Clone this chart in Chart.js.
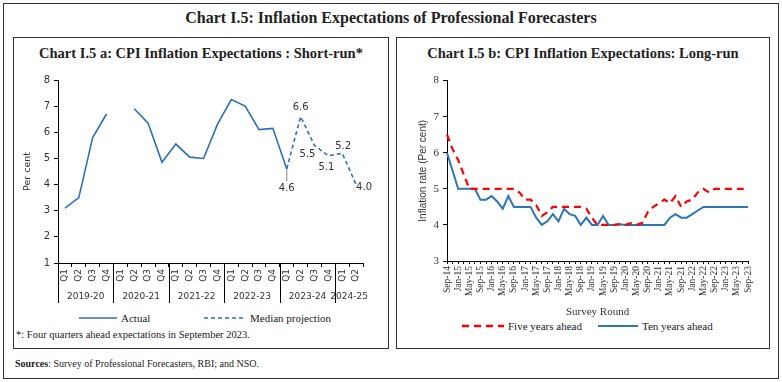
<!DOCTYPE html>
<html lang="en">
<head>
<meta charset="UTF-8">
<title>Chart I.5: Inflation Expectations of Professional Forecasters</title>
<script src="https://cdn.jsdelivr.net/npm/chart.js@4.4.0/dist/chart.umd.min.js"></script>
<style>
  body { margin: 0; background: #fff; font-family: "Liberation Serif", serif; color: #222; }
  .box { position: absolute; border: 1.5px solid #333; box-sizing: border-box; }
  .txt { position: absolute; white-space: nowrap; }
  .title { left: 0; width: 782px; text-align: center; font-weight: bold; }
  .legend { position: absolute; font-size: 11px; display: flex; align-items: center; white-space: nowrap; }
  .legend svg { margin-right: 4px; }
  canvas { position: absolute; }
</style>
</head>
<body>
  <div class="box" style="left:3px; top:3px; width:776px; height:376px;"></div>
  <div class="txt title" style="top:9px; font-size:16px;">Chart I.5: Inflation Expectations of Professional Forecasters</div>

  <!-- panel a -->
  <div class="box" style="left:13px; top:37px; width:376px; height:312px;"></div>
  <div class="txt" style="left:13px; width:376px; top:45px; text-align:center; font-weight:bold; font-size:14.5px;">Chart I.5 a: CPI Inflation Expectations : Short-run*</div>
  <canvas id="chartA" width="372" height="236" style="left:14px; top:70px;"></canvas>
  <div class="legend" style="left:79px; top:312px;">
    <svg width="38" height="4"><line x1="0" y1="2" x2="38" y2="2" stroke="#2E6FB7" stroke-width="1.6"/></svg>Actual
  </div>
  <div class="legend" style="left:204px; top:312px;">
    <svg width="42" height="4"><line x1="0" y1="2" x2="42" y2="2" stroke="#2E6FB7" stroke-width="1.6" stroke-dasharray="4 3"/></svg>Median projection
  </div>
  <div class="txt" style="left:16px; top:329px; font-size:10.5px;">*: Four quarters ahead expectations in September 2023.</div>

  <!-- panel b -->
  <div class="box" style="left:396px; top:37px; width:374px; height:312px;"></div>
  <div class="txt" style="left:396px; width:374px; top:45px; text-align:center; font-weight:bold; font-size:14.5px;">Chart I.5 b: CPI Inflation Expectations: Long-run</div>
  <canvas id="chartB" width="370" height="250" style="left:398px; top:70px;"></canvas>
  <div class="legend" style="left:462px; top:320px;">
    <svg width="42" height="4"><line x1="0" y1="2" x2="42" y2="2" stroke="#FF0000" stroke-width="2.4" stroke-dasharray="7 5"/></svg>Five years ahead
  </div>
  <div class="legend" style="left:598px; top:320px;">
    <svg width="40" height="4"><line x1="0" y1="2" x2="40" y2="2" stroke="#2E75B6" stroke-width="2"/></svg>Ten years ahead
  </div>

  <div class="txt" style="left:15px; top:358px; font-size:10px;"><b>Sources</b>: Survey of Professional Forecasters, RBI; and NSO.</div>

<script>
// ---- Chart I.5 a: short-run expectations ----
const quarters = ['Q1','Q2','Q3','Q4','Q1','Q2','Q3','Q4','Q1','Q2','Q3','Q4',
                  'Q1','Q2','Q3','Q4','Q1','Q2','Q3','Q4','Q1','Q2'];
const fiscalYears = ['2019-20','2020-21','2021-22','2022-23','2023-24','2024-25'];
const quartersInYear = [4, 4, 4, 4, 4, 2];
const actual = [3.1, 3.5, 5.8, 6.7, null, 6.9, 6.35, 4.85, 5.55, 5.05, 5.0, 6.3,
                7.25, 7.0, 6.1, 6.15, 4.6, null, null, null, null, null];
const projection = [null, null, null, null, null, null, null, null, null, null, null, null,
                    null, null, null, null, 4.6, 6.6, 5.5, 5.1, 5.2, 4.0];

// ---- Chart I.5 b: long-run expectations ----
const rounds = ['Sep-14','Nov-14','Jan-15','Mar-15','May-15','Jul-15','Sep-15','Nov-15',
  'Jan-16','Mar-16','May-16','Jul-16','Sep-16','Nov-16','Jan-17','Mar-17','May-17','Jul-17',
  'Sep-17','Nov-17','Jan-18','Mar-18','May-18','Jul-18','Sep-18','Nov-18','Jan-19','Mar-19',
  'May-19','Jul-19','Sep-19','Nov-19','Jan-20','Mar-20','May-20','Jul-20','Sep-20','Nov-20',
  'Jan-21','Mar-21','May-21','Jul-21','Sep-21','Nov-21','Jan-22','Mar-22','May-22','Jul-22',
  'Sep-22','Nov-22','Jan-23','Mar-23','May-23','Jul-23','Sep-23'];
const fiveYears = [6.5, 6.1, 5.8, 5.4, 5.0, 5.0, 5.0, 5.0, 5.0, 5.0, 5.0, 5.0, 5.0, 4.9,
  4.7, 4.7, 4.55, 4.25, 4.35, 4.5, 4.5, 4.5, 4.5, 4.5, 4.5, 4.45, 4.2, 4.0, 4.0, 4.0,
  4.0, 4.02, 4.0, 4.05, 4.0, 4.05, 4.35, 4.5, 4.6, 4.7, 4.6, 4.8, 4.5, 4.65, 4.7, 4.9,
  5.0, 4.9, 5.0, 5.0, 5.0, 5.0, 5.0, 5.0, 4.9];
const tenYears = [6.0, 5.5, 5.0, 5.0, 5.0, 5.0, 4.7, 4.7, 4.8, 4.65, 4.45, 4.8, 4.5, 4.5,
  4.5, 4.5, 4.2, 4.0, 4.1, 4.3, 4.1, 4.45, 4.3, 4.25, 4.0, 4.2, 4.0, 4.0, 4.25, 4.0,
  4.0, 4.02, 4.0, 4.0, 4.0, 4.0, 4.0, 4.0, 4.0, 4.0, 4.2, 4.3, 4.2, 4.2, 4.3, 4.4,
  4.5, 4.5, 4.5, 4.5, 4.5, 4.5, 4.5, 4.5, 4.5];

const blue = '#2E6FB7';
const sansTick = { family: '"DejaVu Sans", sans-serif', size: 9 };

// fiscal year captions and separators under the quarter labels
const yearGroups = {
  id: 'yearGroups',
  afterDraw(chart) {
    const { ctx, chartArea } = chart;
    const x = chart.scales.x;
    const half = (x.getPixelForValue(1) - x.getPixelForValue(0)) / 2;
    let start = 0;
    ctx.save();
    ctx.strokeStyle = '#000';
    ctx.lineWidth = 1;
    ctx.fillStyle = '#333';
    ctx.font = '9px "DejaVu Sans", sans-serif';
    ctx.textAlign = 'center';
    ctx.textBaseline = 'middle';
    fiscalYears.forEach((fy, i) => {
      const n = quartersInYear[i];
      const x0 = x.getPixelForValue(start) - half;
      const x1 = x.getPixelForValue(start + n - 1) + half;
      ctx.beginPath();
      ctx.moveTo(Math.round(x0) + 0.5, chartArea.bottom);
      ctx.lineTo(Math.round(x0) + 0.5, chartArea.bottom + 40);
      ctx.stroke();
      ctx.fillText(fy, (x0 + x1) / 2, chartArea.bottom + 34);
      start += n;
    });
    ctx.restore();
  }
};

// value labels on the projection line
const projLabels = {
  id: 'projLabels',
  afterDatasetsDraw(chart) {
    const ctx = chart.ctx;
    const pts = chart.getDatasetMeta(1).data;
    const offsets = { 16: [0, 20], 17: [0, -9], 18: [-7, 9], 19: [-2, 12], 20: [1, -7], 21: [8, 3] };
    ctx.save();
    ctx.font = '10px "DejaVu Sans", sans-serif';
    ctx.fillStyle = '#333';
    ctx.textAlign = 'center';
    ctx.textBaseline = 'middle';
    pts.forEach((p, i) => {
      if (projection[i] == null) return;
      const o = offsets[i];
      if (i === 16) {
        ctx.strokeStyle = '#999';
        ctx.lineWidth = 1.2;
        ctx.beginPath();
        ctx.moveTo(p.x, p.y);
        ctx.lineTo(p.x, p.y + 12);
        ctx.stroke();
      }
      ctx.fillText(projection[i].toFixed(1), p.x + o[0], p.y + o[1]);
    });
    ctx.restore();
  }
};

new Chart(document.getElementById('chartA'), {
  type: 'line',
  data: {
    labels: quarters,
    datasets: [
      { label: 'Actual', data: actual, borderColor: blue, borderWidth: 1.6, pointRadius: 0, tension: 0, spanGaps: false },
      { label: 'Median projection', data: projection, borderColor: blue, borderWidth: 1.6, borderDash: [4, 3], pointRadius: 0, tension: 0 }
    ]
  },
  options: {
    responsive: false,
    animation: false,
    layout: { padding: { left: 8, top: 8, right: 23, bottom: 0 } },
    plugins: { legend: { display: false }, tooltip: { enabled: false } },
    scales: {
      x: {
        offset: true,
        grid: { offset: true, drawOnChartArea: false, tickLength: 4, color: '#000' },
        border: { color: '#000', width: 1 },
        ticks: { minRotation: 90, maxRotation: 90, autoSkip: false, padding: 2, color: '#333', font: sansTick },
        afterFit(s) { s.height = 43; }
      },
      y: {
        min: 1, max: 8,
        grid: { drawOnChartArea: false, tickLength: 4, color: '#000' },
        border: { color: '#000', width: 1 },
        ticks: { stepSize: 1, padding: 4, color: '#333', font: { family: '"DejaVu Sans", sans-serif', size: 10 } },
        title: { display: true, text: 'Per cent', color: '#333', padding: { top: 0, bottom: 0 },
                 font: { family: '"DejaVu Sans", sans-serif', size: 9.5 } },
        afterFit(s) { s.width = 36; }
      }
    }
  },
  plugins: [yearGroups, projLabels]
});

new Chart(document.getElementById('chartB'), {
  type: 'line',
  data: {
    labels: rounds,
    datasets: [
      { label: 'Five years ahead', data: fiveYears, borderColor: '#FF0000', borderWidth: 2.2, borderDash: [7, 5], pointRadius: 0, tension: 0 },
      { label: 'Ten years ahead', data: tenYears, borderColor: '#2E75B6', borderWidth: 2, pointRadius: 0, tension: 0 }
    ]
  },
  options: {
    responsive: false,
    animation: false,
    layout: { padding: { left: 19, top: 8, right: 20, bottom: 0 } },
    plugins: { legend: { display: false }, tooltip: { enabled: false } },
    scales: {
      x: {
        grid: { drawOnChartArea: false, tickLength: 3, color: '#000' },
        border: { color: '#000', width: 1 },
        ticks: {
          minRotation: 90, maxRotation: 90, autoSkip: false, padding: 2, color: '#333',
          font: { family: '"Liberation Serif", serif', size: 9.5 },
          callback(v, i) { return i % 2 === 0 ? rounds[i] : ''; }
        },
        title: { display: true, text: 'Survey Round', color: '#333', padding: { top: 0, bottom: 1 },
                 font: { family: '"Liberation Serif", serif', size: 11 } },
        afterFit(s) { s.height = 59; }
      },
      y: {
        min: 3, max: 8,
        grid: { drawOnChartArea: false, tickLength: 4, color: '#000' },
        border: { color: '#000', width: 1 },
        ticks: { stepSize: 1, padding: 4, color: '#333', font: { family: '"Liberation Serif", serif', size: 11 } },
        title: { display: true, text: 'Inflation rate (Per cent)', color: '#333', padding: { top: 0, bottom: 0 },
                 font: { family: '"Liberation Sans", sans-serif', size: 10 } },
        afterFit(s) { s.width = 30; }
      }
    }
  }
});
</script>
</body>
</html>
